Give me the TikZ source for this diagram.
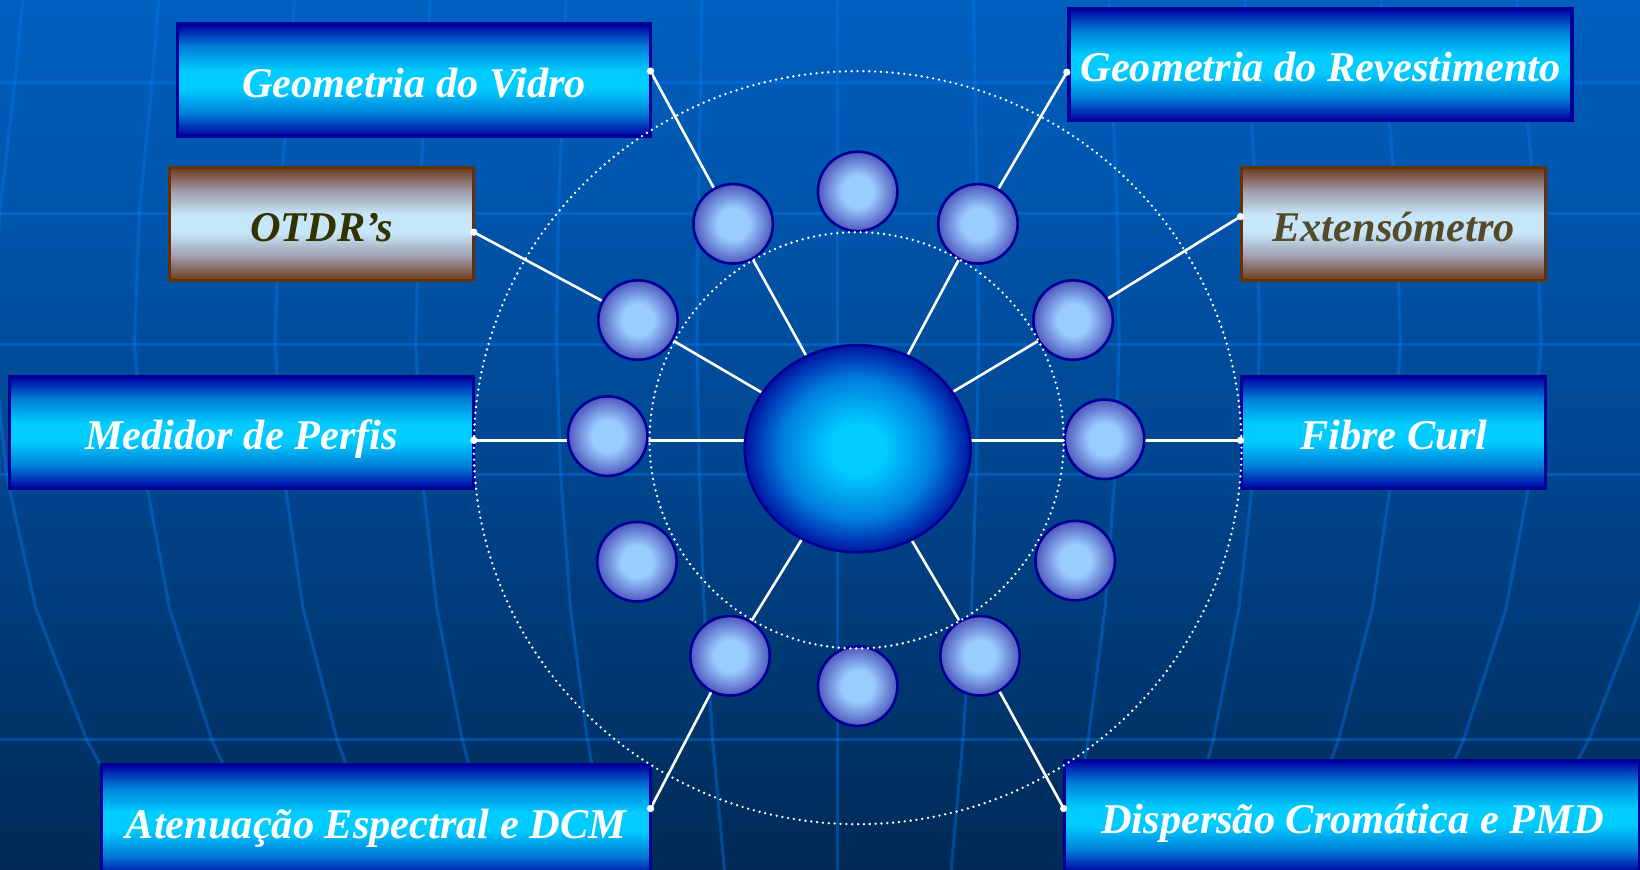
\documentclass[tikz,border=0pt]{standalone}
\usepackage{fontspec}
\setmainfont{Liberation Serif}
\usetikzlibrary{shapes.geometric}
\definecolor{bgtop}{RGB}{0,96,192}
\definecolor{bgmid}{RGB}{0,72,148}
\definecolor{bgbot}{RGB}{0,42,86}
\definecolor{gridc}{RGB}{0,125,245}
\definecolor{navyb}{RGB}{0,0,150}
\definecolor{bcyan}{RGB}{0,204,255}
\definecolor{bmid}{RGB}{0,125,215}
\definecolor{bdark}{RGB}{0,0,160}
\definecolor{brn}{RGB}{102,51,0}
\definecolor{brnshade}{RGB}{110,58,28}
\definecolor{silv}{RGB}{160,160,175}
\definecolor{lite}{RGB}{200,230,250}
\definecolor{ballin}{RGB}{153,204,255}
\definecolor{ballout}{RGB}{80,88,190}
\definecolor{hubin}{RGB}{0,204,255}
\definecolor{hubmid}{RGB}{0,125,222}
\definecolor{hubout}{RGB}{0,20,160}
\definecolor{otdrtxt}{RGB}{51,51,0}
\definecolor{exttxt}{RGB}{85,75,40}
\pgfdeclareverticalshading{bgshade}{100bp}{color(0bp)=(bgbot); color(25bp)=(bgbot); color(50bp)=(bgmid); color(75bp)=(bgtop); color(100bp)=(bgtop)}
\pgfdeclareverticalshading{bluebar}{100bp}{color(0bp)=(bdark); color(25bp)=(bdark); color(35bp)=(bmid); color(46bp)=(bcyan); color(54bp)=(bcyan); color(65bp)=(bmid); color(75bp)=(bdark); color(100bp)=(bdark)}
\pgfdeclareverticalshading{brownbar}{100bp}{color(0bp)=(brnshade); color(25bp)=(brnshade); color(36bp)=(silv); color(46bp)=(lite); color(54bp)=(lite); color(64bp)=(silv); color(75bp)=(brnshade); color(100bp)=(brnshade)}
\pgfdeclareradialshading{ballshade}{\pgfpoint{0bp}{0bp}}{color(0bp)=(ballin); color(10bp)=(ballin); color(25bp)=(ballout); color(50bp)=(ballout)}
\pgfdeclareradialshading{hubshade}{\pgfpoint{0bp}{0bp}}{color(0bp)=(hubin); color(6bp)=(hubin); color(17bp)=(hubmid); color(25bp)=(hubout); color(50bp)=(hubout)}
\pgfdeclarelayer{back}
\pgfdeclarelayer{links}
\pgfdeclarelayer{front}
\pgfsetlayers{back,links,main,front}
\begin{document}
\begin{tikzpicture}[x=1pt,y=-1pt,
  gridline/.style={draw=gridc, draw opacity=0.38, line width=3pt, line join=round},
  boxtext/.style={font=\bfseries\itshape\fontsize{40.5pt}{48pt}\selectfont, inner sep=0pt, text height=35pt, text depth=2pt, align=center},
  bluebox/.style={boxtext, rectangle, shade, shading=bluebar, draw=navyb, line width=3pt, text=white},
  brownbox/.style={boxtext, rectangle, shade, shading=brownbar, draw=brn, line width=3pt},
  ball/.style={circle, minimum size=76pt, inner sep=0pt, shade, shading=ballshade, draw=navyb, line width=2.5pt},
  hubnode/.style={ellipse, minimum width=216pt, minimum height=198pt, inner sep=0pt, shade, shading=hubshade, draw=navyb, line width=2.5pt},
  dotn/.style={circle, fill=white, inner sep=0pt, minimum size=7pt},
  link/.style={draw=white, line width=2.5pt},
  ring/.style={draw=white, line width=2.5pt, line cap=round, dash pattern=on 0pt off 5.6pt}]
\useasboundingbox (0,0) rectangle (1568,831);
\begin{pgfonlayer}{back}
  \shade[shading=bgshade] (0,0) rectangle (1568,831);
  \foreach \yy in {79,204,329,454,707} \draw[gridline] (-5,\yy) -- (1575,\yy);
  \foreach \k in {-6,...,6}{
    \draw[gridline] ({801+134.5*\k*0.965},-5) -- ({801+134.5*\k*0.975},79) -- ({801+134.5*\k*0.993},204) -- ({801+134.5*\k},329) -- ({801+134.5*\k*0.985},454) -- ({801+134.5*\k*0.95},582) -- ({801+134.5*\k*0.89},707) -- ({801+134.5*\k*0.80},840);
  }
\end{pgfonlayer}
% boxes
\node[bluebox, minimum width=452pt, minimum height=107pt] (vidro) at (396,76.5) {Geometria do Vidro};
\node[brownbox, text=otdrtxt, minimum width=291pt, minimum height=108pt] (otdr) at (307.5,214) {OTDR’s};
\node[bluebox, minimum width=444pt, minimum height=107pt] (perfis) at (231,413.5) {Medidor de Perfis};
\node[bluebox, minimum width=525pt, minimum height=108pt] (aten) at (359.5,785) {Atenuação Espectral e DCM};
\node[bluebox, minimum width=481pt, minimum height=107pt] (revest) at (1262.5,61.5) {Geometria do Revestimento};
\node[brownbox, text=exttxt, minimum width=291pt, minimum height=108pt] (exten) at (1332.5,214) {Extensómetro};
\node[bluebox, minimum width=291pt, minimum height=107pt] (curl) at (1332.5,413.5) {Fibre Curl};
\node[bluebox, minimum width=550pt, minimum height=107pt] (disp) at (1293,780.5) {Dispersão Cromática e PMD};
% hub and satellites
\node[hubnode] (hub) at (820,429) {};
\node[ball] (s1) at (820,183) {};
\node[ball] (s2) at (701,214) {};
\node[ball] (s3) at (935,214) {};
\node[ball] (s4) at (610,306) {};
\node[ball] (s5) at (1026,306) {};
\node[ball] (s6) at (581,417) {};
\node[ball] (s7) at (1056,420) {};
\node[ball] (s8) at (609,537) {};
\node[ball] (s9) at (1028,536) {};
\node[ball] (s10) at (698,627) {};
\node[ball] (s11) at (937,627) {};
\node[ball] (s12) at (820,656) {};
\begin{pgfonlayer}{front}
  \draw[ring] (820,428) ellipse [x radius=367pt, y radius=360pt];
  \draw[ring] (819,421) ellipse [x radius=198pt, y radius=199pt];
  \node[dotn] (p1) at (622,68) {};
  \node[dotn] (p2) at (453,222) {};
  \node[dotn] (p3) at (453,421) {};
  \node[dotn] (p4) at (622,773) {};
  \node[dotn] (p5) at (1020,69) {};
  \node[dotn] (p6) at (1186,207) {};
  \node[dotn] (p7) at (1186,421) {};
  \node[dotn] (p8) at (1017,773) {};
\end{pgfonlayer}
\begin{pgfonlayer}{links}
  \draw[link] (p1.center) -- (s2.center) -- (hub.center);
  \draw[link] (p2.center) -- (s4.center) -- (hub.center);
  \draw[link] (p3.center) -- (hub.center |- p3.center);
  \draw[link] (p4.center) -- (s10.center) -- (hub.center);
  \draw[link] (p5.center) -- (s3.center) -- (hub.center);
  \draw[link] (p6.center) -- (s5.center) -- (hub.center);
  \draw[link] (p7.center) -- (hub.center |- p7.center);
  \draw[link] (p8.center) -- (s11.center) -- (hub.center);
\end{pgfonlayer}
\end{tikzpicture}
\end{document}
